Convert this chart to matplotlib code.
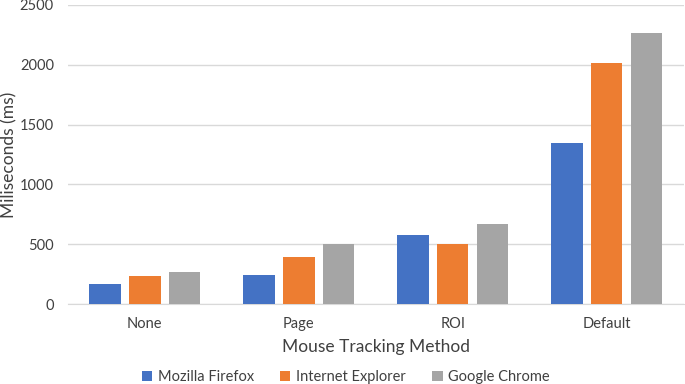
import numpy as np
import matplotlib
matplotlib.use("Agg")
import matplotlib.pyplot as plt

plt.rcParams["font.family"] = ["Lato", "DejaVu Sans"]

methods = ["None", "Page", "ROI", "Default"]
firefox = [170, 242, 577, 1343]
explorer = [234, 393, 504, 2017]
chrome = [265, 504, 666, 2263]

series = [
    ("Mozilla Firefox", firefox, "#4472C4"),
    ("Internet Explorer", explorer, "#ED7D31"),
    ("Google Chrome", chrome, "#A5A5A5"),
]

fig = plt.figure(figsize=(6.85, 3.84), dpi=100)
ax = fig.add_axes([0.099, 0.208, 0.899, 0.779])

x = np.arange(len(methods))
step = 0.258
width = 0.205
for i, (name, vals, color) in enumerate(series):
    ax.bar(x + (i - 1) * step, vals, width, color=color, label=name, zorder=3)

ax.set_xlim(-0.5, len(methods) - 0.5)
ax.set_ylim(0, 2500)
ax.set_yticks(range(0, 2501, 500))
ax.set_xticks(x)
ax.set_xticklabels(methods)
ax.grid(axis="y", color="#D9D9D9", linewidth=1, zorder=0)
for s in ["top", "right", "left"]:
    ax.spines[s].set_visible(False)
ax.spines["bottom"].set_color("#D9D9D9")
ax.tick_params(length=0, labelsize=10.5, colors="#404040", pad=9)
ax.tick_params(axis="y", pad=10)

ax.set_ylabel("Miliseconds (ms)", fontsize=12.5, color="#404040")
ax.yaxis.set_label_coords(-0.082, 0.5)
ax.set_xlabel("Mouse Tracking Method", fontsize=12.5, color="#404040", labelpad=6)

fig.legend(loc="lower center", bbox_to_anchor=(0.505, -0.035), ncol=3, frameon=False,
           fontsize=10.5, handlelength=0.7, handleheight=0.7, handletextpad=0.4,
           columnspacing=1.8, labelcolor="#404040")

fig.savefig("out.png", dpi=100)
